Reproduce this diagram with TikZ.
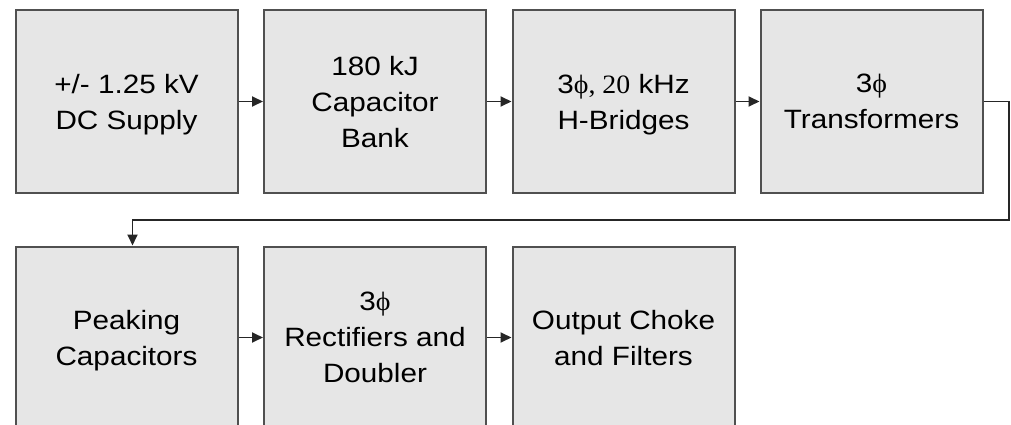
\documentclass[tikz,border=0pt]{standalone}
\usepackage{fontspec}
\setmainfont{Liberation Sans}[FakeStretch=1.12]
\newfontfamily\serifpart{Liberation Serif}[FakeStretch=1.05]
\usetikzlibrary{arrows.meta}
\definecolor{boxfill}{HTML}{E6E6E6}
\definecolor{boxline}{HTML}{505050}
\newcommand\ph{{\serifpart ϕ}}
\begin{document}
\begin{tikzpicture}[x=1pt,y=-1pt,
    stage/.style={draw=boxline,line width=2pt,fill=boxfill,minimum width=222pt,
      minimum height=182pt,align=center,inner sep=0pt,text depth=-4pt,
      font=\fontsize{26.5}{36}\selectfont,text=black},
    flow/.style={-{Triangle[length=11pt,width=10pt]},line width=1.8pt,draw=black!85}]
  \useasboundingbox (0,0) rectangle (1011,425);
  \clip (0,0) rectangle (1011,425);
  % first row
  \node[stage] (supply) at (126.5,101.5) {+/- 1.25 kV\\DC Supply};
  \node[stage] (bank) at (375,101.5) {180 kJ\\Capacitor\\Bank};
  \node[stage] (bridge) at (623.5,101.5) {3\ph{\serifpart, 20} kHz\\H-Bridges};
  \node[stage] (trans) at (871.5,101.5) {3\ph\\Transformers};
  % second row
  \node[stage] (peak) at (126.5,337.5) {Peaking\\Capacitors};
  \node[stage] (rect) at (375,337.5) {3\ph\\Rectifiers and\\Doubler};
  \node[stage] (choke) at (623.5,337.5) {Output Choke\\and Filters};
  \draw[flow] (supply) -- (bank);
  \draw[flow] (bank) -- (bridge);
  \draw[flow] (bridge) -- (trans);
  \coordinate (turn) at (1009,220);
  \draw[flow] (trans.east) -| (turn) -| ([xshift=6pt]peak.north);
  \draw[flow] (peak) -- (rect);
  \draw[flow] (rect) -- (choke);
\end{tikzpicture}
\end{document}
